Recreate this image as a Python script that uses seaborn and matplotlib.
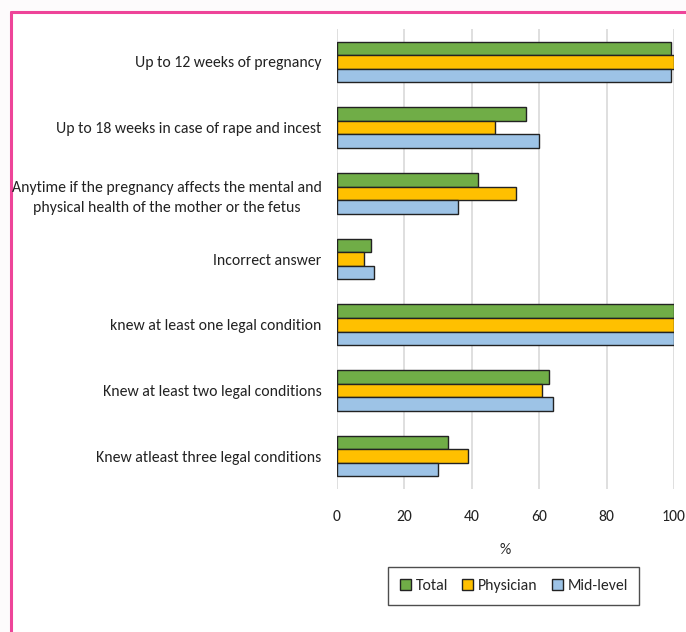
import matplotlib
matplotlib.use("Agg")
import matplotlib.pyplot as plt
from matplotlib.patches import Patch
from matplotlib.lines import Line2D
import seaborn as sns
import pandas as pd
from matplotlib import font_manager

categories = [
    "Up to 12 weeks of pregnancy",
    "Up to 18 weeks in case of rape and incest",
    "Anytime if the pregnancy affects the mental and\nphysical health of the mother or the fetus",
    "Incorrect answer",
    "knew at least one legal condition",
    "Knew at least two legal conditions",
    "Knew atleast three legal conditions",
]
total = [99, 56, 42, 10, 100, 63, 33]
physician = [100, 47, 53, 8, 100, 61, 39]
midlevel = [99, 60, 36, 11, 100, 64, 30]
series_names = ["Total", "Physician", "Mid-level"]
colors = ["#70AD47", "#FFC000", "#9DC3E6"]
xticks = [0, 20, 40, 60, 80, 100]

sns.set_theme(style="white")
names = {f.name for f in font_manager.fontManager.ttflist}
fam = "Open Sans"
for cand in ["Carlito", "Open Sans Condensed", "Roboto Condensed", "PT Sans Narrow",
             "Archivo Narrow", "Liberation Sans Narrow"]:
    if cand in names:
        fam = cand
        break
plt.rcParams["font.family"] = [fam, "DejaVu Sans"]
FS = 11.3

rows = []
for name, vals in zip(series_names, [total, physician, midlevel]):
    for c, v in zip(categories, vals):
        rows.append({"category": c, "series": name, "value": v})
df = pd.DataFrame(rows)

fig = plt.figure(figsize=(6.86, 6.32), dpi=100)
fig.patch.set_facecolor("white")

# off-white margin with pink frame lines (top and left)
fig.add_artist(plt.Rectangle((0, 0.981), 1, 0.019, transform=fig.transFigure,
                             facecolor="#fdfbfc", edgecolor="none", zorder=-10))
fig.add_artist(plt.Rectangle((0, 0), 0.016, 1, transform=fig.transFigure,
                             facecolor="#fdfbfc", edgecolor="none", zorder=-10))
fig.add_artist(Line2D([0.016, 1], [0.981, 0.981], transform=fig.transFigure,
                      color="#EE4499", linewidth=2.2, zorder=-5))
fig.add_artist(Line2D([0.016, 0.016], [0, 0.981], transform=fig.transFigure,
                      color="#EE4499", linewidth=2.2, zorder=-5))

ax = fig.add_axes([0.491, 0.2263, 0.4915, 0.7277])
ax.patch.set_alpha(0)

sns.barplot(data=df, y="category", x="value", hue="series", orient="h",
            palette=colors, saturation=1, width=0.62, edgecolor="#222222", linewidth=1.0,
            ax=ax, legend=False, zorder=3)

ax.set_xlim(0, 100)
ax.set_xticks(xticks)
ax.set_xticklabels([str(t) for t in xticks], fontsize=FS, color="#222222")
ax.tick_params(axis="x", length=0, pad=15)
ax.tick_params(axis="y", length=0, pad=11)
for lab in ax.get_yticklabels():
    lab.set_fontsize(FS)
    lab.set_color("#222222")
    lab.set_multialignment("center")
    lab.set_linespacing(1.6)
ax.set_ylabel("")
ax.set_xlabel("%", fontsize=FS, color="#222222", labelpad=14)
ax.grid(axis="x", color="#d9d9d9", linewidth=1.2, zorder=0)
ax.set_axisbelow(True)
for s in ax.spines.values():
    s.set_visible(False)

handles = [Patch(facecolor=c, edgecolor="#222222", linewidth=1.0) for c in colors]
leg = fig.legend(handles, series_names, loc="center", bbox_to_anchor=(0.749, 0.0728),
                 ncol=3, frameon=True, fontsize=FS, handlelength=0.7, handleheight=0.7,
                 handletextpad=0.3, columnspacing=0.9, borderpad=0.75, fancybox=False)
leg.get_frame().set_edgecolor("#222222")
leg.get_frame().set_linewidth(1.0)

fig.savefig("out.png", dpi=100)
